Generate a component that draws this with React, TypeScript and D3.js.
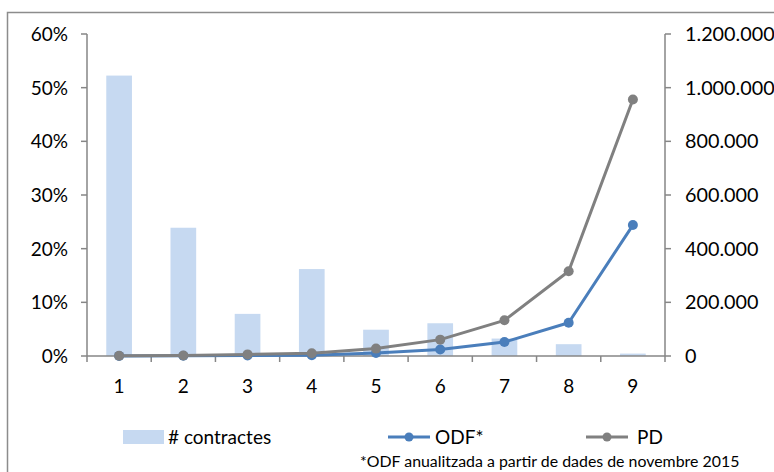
import React from "react";
import * as d3 from "d3";

const categories = ["1", "2", "3", "4", "5", "6", "7", "8", "9"];
const contractes = [1045000, 478000, 157000, 324000, 98000, 122000, 65000, 44000, 9000];
const odf = [0.0002, 0.0005, 0.001, 0.0015, 0.0055, 0.012, 0.026, 0.062, 0.244];
const pd = [0.0005, 0.001, 0.003, 0.005, 0.0138, 0.0305, 0.0665, 0.158, 0.478];
const leftTicks = [0, 0.1, 0.2, 0.3, 0.4, 0.5, 0.6];
const rightTicks = [0, 200000, 400000, 600000, 800000, 1000000, 1200000];
const legendLabels = ["# contractes", "ODF*", "PD"];
const footnote = "*ODF anualitzada a partir de dades de novembre 2015";

const W = 774;
const H = 472;
const X0 = 87;
const X1 = 665;
const Y0 = 356;
const Y1 = 34;
const FONT = "Lato, 'Open Sans', sans-serif";
const BAR = "#c6d9f1";
const BLUE = "#4a7ebb";
const GRAY = "#808080";
const AXIS = "#868686";

const esLocale = d3.formatLocale({ decimal: ",", thousands: ".", grouping: [3], currency: ["", "€"] });
const fmtRight = esLocale.format(",d");
const fmtLeft = d3.format(".0%");

export default function App() {
  const x = d3.scaleBand<string>().domain(categories).range([X0, X1]).paddingInner(0).paddingOuter(0);
  const yL = d3.scaleLinear().domain([0, 0.6]).range([Y0, Y1]);
  const yR = d3.scaleLinear().domain([0, 1200000]).range([Y0, Y1]);
  const bw = x.bandwidth();
  const barW = bw * 0.4;
  const cx = (c: string) => (x(c) as number) + bw / 2;

  const lineGen = d3
    .line<number>()
    .x((_, i) => cx(categories[i]))
    .y((v) => yL(v));

  const boundaries = d3.range(categories.length + 1).map((i) => X0 + i * bw);

  return (
    <svg
      width={W}
      height={H}
      style={{ position: "absolute", left: 0, top: 0, background: "#fff" }}
      fontFamily={FONT}
    >
      <rect x={7.5} y={12.5} width={900} height={600} fill="#fff" stroke="#8c8c8c" strokeWidth={1.5} />

      {/* bars */}
      {contractes.map((v, i) => (
        <rect
          key={"b" + i}
          x={cx(categories[i]) - barW / 2}
          y={yR(v)}
          width={barW}
          height={Y0 - yR(v)}
          fill={BAR}
        />
      ))}

      {/* axes */}
      <line x1={X0} x2={X1} y1={Y0} y2={Y0} stroke={AXIS} strokeWidth={1.5} />
      {boundaries.map((bx, i) => (
        <line key={"xt" + i} x1={bx} x2={bx} y1={Y0} y2={Y0 + 6} stroke={AXIS} strokeWidth={1.5} />
      ))}
      <line x1={X0} x2={X0} y1={Y1} y2={Y0} stroke={AXIS} strokeWidth={1.5} />
      <line x1={X1} x2={X1} y1={Y1} y2={Y0} stroke={AXIS} strokeWidth={1.5} />
      {leftTicks.map((t, i) => (
        <g key={"lt" + i}>
          <line x1={X0 - 6} x2={X0} y1={yL(t)} y2={yL(t)} stroke={AXIS} strokeWidth={1.5} />
          <text x={68} y={yL(t) + 7} textAnchor="end" fontSize={19} fill="#000">
            {fmtLeft(t)}
          </text>
        </g>
      ))}
      {rightTicks.map((t, i) => (
        <g key={"rt" + i}>
          <line x1={X1} x2={X1 + 6} y1={yR(t)} y2={yR(t)} stroke={AXIS} strokeWidth={1.5} />
          <text x={685} y={yR(t) + 7} textAnchor="start" fontSize={19.8} fill="#000">
            {fmtRight(t)}
          </text>
        </g>
      ))}
      {categories.map((c, i) => (
        <text key={"xl" + i} x={cx(c)} y={393} textAnchor="middle" fontSize={19} fill="#000">
          {c}
        </text>
      ))}

      {/* lines */}
      <path d={lineGen(odf) || ""} fill="none" stroke={BLUE} strokeWidth={3} strokeLinejoin="round" />
      {odf.map((v, i) => (
        <circle key={"o" + i} cx={cx(categories[i])} cy={yL(v)} r={5} fill={BLUE} />
      ))}
      <path d={lineGen(pd) || ""} fill="none" stroke={GRAY} strokeWidth={3} strokeLinejoin="round" />
      {pd.map((v, i) => (
        <circle key={"p" + i} cx={cx(categories[i])} cy={yL(v)} r={5} fill={GRAY} />
      ))}

      {/* legend */}
      <rect x={123} y={430} width={41} height={14} fill={BAR} />
      <text x={168} y={444} fontSize={19} fill="#000">{legendLabels[0]}</text>

      <line x1={388} x2={430} y1={437} y2={437} stroke={BLUE} strokeWidth={3} />
      <circle cx={409} cy={437} r={4.5} fill={BLUE} />
      <text x={435} y={444} fontSize={19} fill="#000">{legendLabels[1]}</text>

      <line x1={586} x2={628} y1={437} y2={437} stroke={GRAY} strokeWidth={3} />
      <circle cx={607} cy={437} r={4.5} fill={GRAY} />
      <text x={637} y={444} fontSize={19} fill="#000">{legendLabels[2]}</text>

      <text x={360} y={467} fontSize={15.9} fill="#000">{footnote}</text>
    </svg>
  );
}
